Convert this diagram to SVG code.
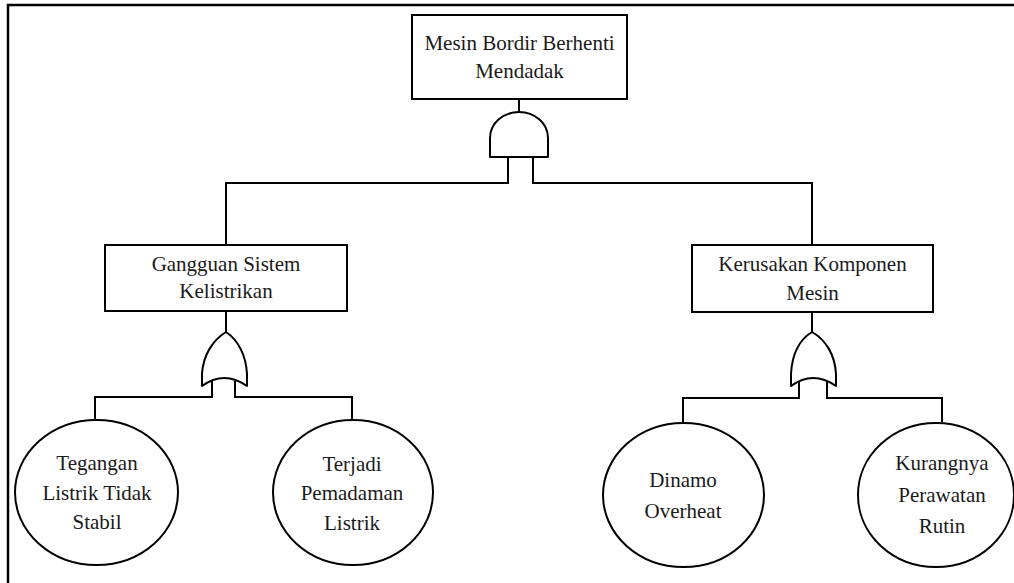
<svg xmlns="http://www.w3.org/2000/svg" width="1014" height="583" viewBox="0 0 1014 583">
<style>
.box{fill:#fff;stroke:#000;stroke-width:2}
.gate{fill:#fff;stroke:#000;stroke-width:2;stroke-linejoin:round}
.ev{fill:#fff;stroke:#000;stroke-width:2}
.ln{fill:none;stroke:#000;stroke-width:2}
.frame{fill:none;stroke:#000;stroke-width:2.5}
text{font-family:"Liberation Serif","Times New Roman",serif;font-size:21px;fill:#1a1a1a;text-anchor:middle}
</style>
<rect width="1014" height="583" fill="#fff"/>
<path class="frame" d="M8,583 L8,5 L1014,5"/>
<g id="connectors">
<path class="ln" d="M519,99 L519,112"/>
<path class="ln" d="M508,157 L508,183 L226,183 L226,245"/>
<path class="ln" d="M533,157 L533,183 L812,183 L812,245"/>
<path class="ln" d="M226,311 L226,332"/>
<path class="ln" d="M812,312 L812,332"/>
<path class="ln" d="M212,381 L212,397 L95,397 L95,420"/>
<path class="ln" d="M235,381 L235,397 L352,397 L352,420"/>
<path class="ln" d="M799,381 L799,398 L683,398 L683,423"/>
<path class="ln" d="M827,381 L827,398 L942,398 L942,422"/>
</g>
<g id="top">
<rect class="box" x="412" y="15" width="215" height="84"/>
<text x="519.5" y="50">Mesin Bordir Berhenti</text>
<text x="519.5" y="78">Mendadak</text>
</g>
<g id="gate-and">
<path class="gate" d="M490,157 L490,138 A29,26 0 0 1 548,138 L548,157 Z"/>
</g>
<g id="gangguan">
<rect class="box" x="105" y="245" width="242" height="66"/>
<text x="226" y="271">Gangguan Sistem</text>
<text x="226" y="298">Kelistrikan</text>
</g>
<g id="kerusakan">
<rect class="box" x="692" y="245" width="241" height="67"/>
<text x="812.5" y="271">Kerusakan Komponen</text>
<text x="812.5" y="300">Mesin</text>
</g>
<g id="gate-or-left">
<path class="gate" d="M226,332 C213,340 203,355 202,374 L202,386 Q224,370 247,386 L247,374 C246,355 238,340 226,332 Z"/>
</g>
<g id="gate-or-right">
<path class="gate" d="M812,332 C799,340 792,355 791,374 L791,386 Q813,370 836,386 L836,374 C835,355 826,340 812,332 Z"/>
</g>
<g id="tegangan">
<ellipse class="ev" cx="96.5" cy="492.5" rx="81.5" ry="72.5"/>
<text x="97" y="470">Tegangan</text>
<text x="97" y="500">Listrik Tidak</text>
<text x="97" y="529">Stabil</text>
</g>
<g id="terjadi">
<ellipse class="ev" cx="353" cy="492.5" rx="80" ry="72.5"/>
<text x="352" y="471">Terjadi</text>
<text x="352" y="500">Pemadaman</text>
<text x="352" y="530">Listrik</text>
</g>
<g id="dinamo">
<ellipse class="ev" cx="683.5" cy="495" rx="80.5" ry="72"/>
<text x="683" y="487">Dinamo</text>
<text x="683" y="518">Overheat</text>
</g>
<g id="kurangnya">
<ellipse class="ev" cx="936" cy="495" rx="78" ry="72"/>
<text x="942" y="470">Kurangnya</text>
<text x="942" y="502">Perawatan</text>
<text x="942" y="533">Rutin</text>
</g>
</svg>
